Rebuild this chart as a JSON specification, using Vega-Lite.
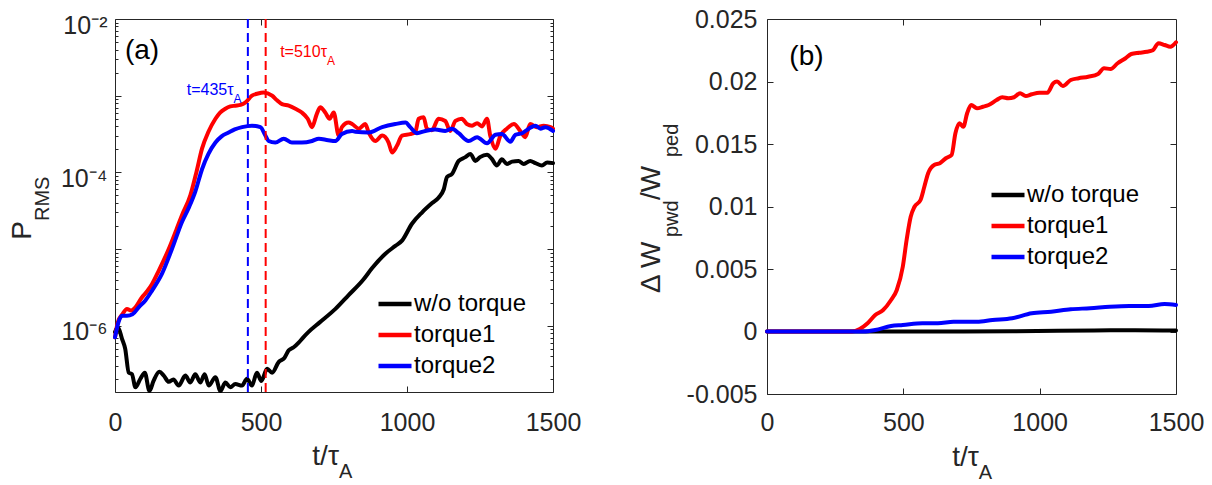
{
  "$schema": "https://vega.github.io/schema/vega-lite/v6.json",
  "background": "white",
  "padding": {"left": 8, "top": 6, "right": 5, "bottom": 3},
  "spacing": 214,
  "bounds": "flush",
  "config": {
    "font": "Liberation Sans",
    "view": {"stroke": "#262626", "strokeWidth": 1},
    "axis": {"domain": false, "grid": false, "labelFont": "Liberation Sans", "labelFontSize": 25, "labelColor": "#262626", "tickColor": "#262626", "tickWidth": 1, "tickSize": -6},
    "text": {"font": "Liberation Sans"}
  },
  "datasets": {
    "p": [
      {"t":0,"v":8.32e-7,"s":"w/o torque"},{"t":10,"v":9.55e-7,"s":"w/o torque"},{"t":24,"v":6.76e-7,"s":"w/o torque"},{"t":35,"v":5.01e-7,"s":"w/o torque"},{"t":47,"v":2.45e-7,"s":"w/o torque"},{"t":58,"v":2.34e-7,"s":"w/o torque"},{"t":70,"v":1.58e-7,"s":"w/o torque"},{"t":87,"v":2.04e-7,"s":"w/o torque"},{"t":102,"v":2.45e-7,"s":"w/o torque"},{"t":118,"v":1.41e-7,"s":"w/o torque"},{"t":132,"v":1.91e-7,"s":"w/o torque"},{"t":152,"v":2.51e-7,"s":"w/o torque"},{"t":167,"v":2.24e-7,"s":"w/o torque"},{"t":184,"v":1.86e-7,"s":"w/o torque"},{"t":200,"v":2.0e-7,"s":"w/o torque"},{"t":218,"v":1.66e-7,"s":"w/o torque"},{"t":241,"v":2.24e-7,"s":"w/o torque"},{"t":258,"v":1.82e-7,"s":"w/o torque"},{"t":275,"v":2.34e-7,"s":"w/o torque"},{"t":292,"v":1.82e-7,"s":"w/o torque"},{"t":307,"v":2.34e-7,"s":"w/o torque"},{"t":321,"v":1.66e-7,"s":"w/o torque"},{"t":344,"v":2.14e-7,"s":"w/o torque"},{"t":361,"v":1.41e-7,"s":"w/o torque"},{"t":378,"v":1.82e-7,"s":"w/o torque"},{"t":395,"v":1.58e-7,"s":"w/o torque"},{"t":412,"v":1.74e-7,"s":"w/o torque"},{"t":435,"v":1.66e-7,"s":"w/o torque"},{"t":452,"v":2.04e-7,"s":"w/o torque"},{"t":469,"v":1.66e-7,"s":"w/o torque"},{"t":486,"v":2.45e-7,"s":"w/o torque"},{"t":501,"v":1.91e-7,"s":"w/o torque"},{"t":521,"v":2.75e-7,"s":"w/o torque"},{"t":538,"v":2.45e-7,"s":"w/o torque"},{"t":561,"v":3.39e-7,"s":"w/o torque"},{"t":580,"v":3.8e-7,"s":"w/o torque"},{"t":595,"v":4.79e-7,"s":"w/o torque"},{"t":612,"v":5.25e-7,"s":"w/o torque"},{"t":629,"v":6.03e-7,"s":"w/o torque"},{"t":645,"v":7.08e-7,"s":"w/o torque"},{"t":663,"v":8.32e-7,"s":"w/o torque"},{"t":700,"v":1.1e-6,"s":"w/o torque"},{"t":755,"v":1.66e-6,"s":"w/o torque"},{"t":800,"v":2.51e-6,"s":"w/o torque"},{"t":850,"v":3.98e-6,"s":"w/o torque"},{"t":880,"v":5.62e-6,"s":"w/o torque"},{"t":926,"v":8.71e-6,"s":"w/o torque"},{"t":960,"v":1.1e-5,"s":"w/o torque"},{"t":983,"v":1.29e-5,"s":"w/o torque"},{"t":1017,"v":2.14e-5,"s":"w/o torque"},{"t":1052,"v":3.02e-5,"s":"w/o torque"},{"t":1086,"v":3.98e-5,"s":"w/o torque"},{"t":1108,"v":4.68e-5,"s":"w/o torque"},{"t":1126,"v":6.03e-5,"s":"w/o torque"},{"t":1137,"v":8.71e-5,"s":"w/o torque"},{"t":1154,"v":9.55e-5,"s":"w/o torque"},{"t":1177,"v":1.41e-4,"s":"w/o torque"},{"t":1200,"v":1.58e-4,"s":"w/o torque"},{"t":1217,"v":1.74e-4,"s":"w/o torque"},{"t":1234,"v":1.41e-4,"s":"w/o torque"},{"t":1250,"v":1.58e-4,"s":"w/o torque"},{"t":1274,"v":1.7e-4,"s":"w/o torque"},{"t":1290,"v":1.51e-4,"s":"w/o torque"},{"t":1308,"v":1.23e-4,"s":"w/o torque"},{"t":1325,"v":1.48e-4,"s":"w/o torque"},{"t":1342,"v":1.29e-4,"s":"w/o torque"},{"t":1360,"v":1.38e-4,"s":"w/o torque"},{"t":1382,"v":1.41e-4,"s":"w/o torque"},{"t":1400,"v":1.29e-4,"s":"w/o torque"},{"t":1422,"v":1.41e-4,"s":"w/o torque"},{"t":1440,"v":1.32e-4,"s":"w/o torque"},{"t":1462,"v":1.23e-4,"s":"w/o torque"},{"t":1480,"v":1.35e-4,"s":"w/o torque"},{"t":1500,"v":1.32e-4,"s":"w/o torque"},
      {"t":0,"v":7.08e-7,"s":"torque1"},{"t":10,"v":1.12e-6,"s":"torque1"},{"t":25,"v":1.41e-6,"s":"torque1"},{"t":41,"v":1.66e-6,"s":"torque1"},{"t":55,"v":1.58e-6,"s":"torque1"},{"t":70,"v":1.74e-6,"s":"torque1"},{"t":92,"v":2.34e-6,"s":"torque1"},{"t":110,"v":2.82e-6,"s":"torque1"},{"t":127,"v":3.51e-6,"s":"torque1"},{"t":150,"v":5.25e-6,"s":"torque1"},{"t":184,"v":1.0e-5,"s":"torque1"},{"t":210,"v":1.78e-5,"s":"torque1"},{"t":229,"v":2.75e-5,"s":"torque1"},{"t":258,"v":5.01e-5,"s":"torque1"},{"t":280,"v":1.05e-4,"s":"torque1"},{"t":298,"v":2.04e-4,"s":"torque1"},{"t":320,"v":3.39e-4,"s":"torque1"},{"t":344,"v":5.01e-4,"s":"torque1"},{"t":360,"v":6.03e-4,"s":"torque1"},{"t":378,"v":6.76e-4,"s":"torque1"},{"t":395,"v":7.24e-4,"s":"torque1"},{"t":412,"v":7.41e-4,"s":"torque1"},{"t":430,"v":7.59e-4,"s":"torque1"},{"t":446,"v":8.13e-4,"s":"torque1"},{"t":469,"v":1.0e-3,"s":"torque1"},{"t":490,"v":1.07e-3,"s":"torque1"},{"t":509,"v":1.1e-3,"s":"torque1"},{"t":538,"v":1.0e-3,"s":"torque1"},{"t":555,"v":8.71e-4,"s":"torque1"},{"t":572,"v":7.76e-4,"s":"torque1"},{"t":595,"v":7.41e-4,"s":"torque1"},{"t":618,"v":6.76e-4,"s":"torque1"},{"t":640,"v":6.03e-4,"s":"torque1"},{"t":660,"v":5.01e-4,"s":"torque1"},{"t":675,"v":3.89e-4,"s":"torque1"},{"t":690,"v":5.62e-4,"s":"torque1"},{"t":703,"v":7.08e-4,"s":"torque1"},{"t":720,"v":6.03e-4,"s":"torque1"},{"t":735,"v":5.01e-4,"s":"torque1"},{"t":749,"v":6.03e-4,"s":"torque1"},{"t":766,"v":3.02e-4,"s":"torque1"},{"t":777,"v":3.89e-4,"s":"torque1"},{"t":800,"v":4.47e-4,"s":"torque1"},{"t":812,"v":4.27e-4,"s":"torque1"},{"t":835,"v":3.72e-4,"s":"torque1"},{"t":857,"v":4.27e-4,"s":"torque1"},{"t":869,"v":3.31e-4,"s":"torque1"},{"t":892,"v":2.57e-4,"s":"torque1"},{"t":915,"v":3.02e-4,"s":"torque1"},{"t":937,"v":2.45e-4,"s":"torque1"},{"t":949,"v":1.82e-4,"s":"torque1"},{"t":966,"v":2.24e-4,"s":"torque1"},{"t":983,"v":3.02e-4,"s":"torque1"},{"t":1011,"v":3.16e-4,"s":"torque1"},{"t":1028,"v":3.31e-4,"s":"torque1"},{"t":1040,"v":5.01e-4,"s":"torque1"},{"t":1057,"v":5.25e-4,"s":"torque1"},{"t":1068,"v":3.72e-4,"s":"torque1"},{"t":1085,"v":3.55e-4,"s":"torque1"},{"t":1108,"v":5.01e-4,"s":"torque1"},{"t":1131,"v":4.68e-4,"s":"torque1"},{"t":1148,"v":3.47e-4,"s":"torque1"},{"t":1166,"v":4.68e-4,"s":"torque1"},{"t":1188,"v":5.01e-4,"s":"torque1"},{"t":1205,"v":4.27e-4,"s":"torque1"},{"t":1223,"v":4.07e-4,"s":"torque1"},{"t":1240,"v":4.37e-4,"s":"torque1"},{"t":1257,"v":3.98e-4,"s":"torque1"},{"t":1274,"v":5.01e-4,"s":"torque1"},{"t":1285,"v":3.02e-4,"s":"torque1"},{"t":1303,"v":2.04e-4,"s":"torque1"},{"t":1320,"v":3.02e-4,"s":"torque1"},{"t":1342,"v":3.72e-4,"s":"torque1"},{"t":1366,"v":4.27e-4,"s":"torque1"},{"t":1388,"v":3.47e-4,"s":"torque1"},{"t":1405,"v":2.88e-4,"s":"torque1"},{"t":1422,"v":4.27e-4,"s":"torque1"},{"t":1445,"v":3.89e-4,"s":"torque1"},{"t":1468,"v":4.07e-4,"s":"torque1"},{"t":1491,"v":3.89e-4,"s":"torque1"},{"t":1500,"v":3.72e-4,"s":"torque1"},
      {"t":0,"v":7.08e-7,"s":"torque2"},{"t":12,"v":1.12e-6,"s":"torque2"},{"t":24,"v":1.35e-6,"s":"torque2"},{"t":41,"v":1.35e-6,"s":"torque2"},{"t":60,"v":1.41e-6,"s":"torque2"},{"t":81,"v":1.74e-6,"s":"torque2"},{"t":104,"v":2.14e-6,"s":"torque2"},{"t":127,"v":2.88e-6,"s":"torque2"},{"t":161,"v":4.79e-6,"s":"torque2"},{"t":195,"v":1.0e-5,"s":"torque2"},{"t":229,"v":2.24e-5,"s":"torque2"},{"t":254,"v":3.55e-5,"s":"torque2"},{"t":275,"v":5.62e-5,"s":"torque2"},{"t":298,"v":1.1e-4,"s":"torque2"},{"t":320,"v":1.74e-4,"s":"torque2"},{"t":344,"v":2.45e-4,"s":"torque2"},{"t":365,"v":2.95e-4,"s":"torque2"},{"t":389,"v":3.31e-4,"s":"torque2"},{"t":410,"v":3.63e-4,"s":"torque2"},{"t":435,"v":3.89e-4,"s":"torque2"},{"t":469,"v":4.07e-4,"s":"torque2"},{"t":498,"v":3.89e-4,"s":"torque2"},{"t":515,"v":3.02e-4,"s":"torque2"},{"t":526,"v":2.57e-4,"s":"torque2"},{"t":549,"v":2.45e-4,"s":"torque2"},{"t":578,"v":2.75e-4,"s":"torque2"},{"t":606,"v":2.45e-4,"s":"torque2"},{"t":640,"v":2.45e-4,"s":"torque2"},{"t":675,"v":2.57e-4,"s":"torque2"},{"t":698,"v":2.75e-4,"s":"torque2"},{"t":730,"v":2.63e-4,"s":"torque2"},{"t":755,"v":2.57e-4,"s":"torque2"},{"t":777,"v":3.16e-4,"s":"torque2"},{"t":812,"v":3.47e-4,"s":"torque2"},{"t":823,"v":3.39e-4,"s":"torque2"},{"t":869,"v":3.31e-4,"s":"torque2"},{"t":915,"v":3.89e-4,"s":"torque2"},{"t":960,"v":4.27e-4,"s":"torque2"},{"t":995,"v":4.47e-4,"s":"torque2"},{"t":1011,"v":3.89e-4,"s":"torque2"},{"t":1034,"v":3.24e-4,"s":"torque2"},{"t":1063,"v":3.47e-4,"s":"torque2"},{"t":1097,"v":3.63e-4,"s":"torque2"},{"t":1131,"v":3.47e-4,"s":"torque2"},{"t":1154,"v":3.72e-4,"s":"torque2"},{"t":1177,"v":3.24e-4,"s":"torque2"},{"t":1211,"v":2.57e-4,"s":"torque2"},{"t":1240,"v":2.88e-4,"s":"torque2"},{"t":1274,"v":2.4e-4,"s":"torque2"},{"t":1303,"v":3.09e-4,"s":"torque2"},{"t":1325,"v":3.16e-4,"s":"torque2"},{"t":1354,"v":2.51e-4,"s":"torque2"},{"t":1371,"v":3.09e-4,"s":"torque2"},{"t":1394,"v":3.24e-4,"s":"torque2"},{"t":1417,"v":3.72e-4,"s":"torque2"},{"t":1440,"v":4.07e-4,"s":"torque2"},{"t":1457,"v":3.72e-4,"s":"torque2"},{"t":1474,"v":3.89e-4,"s":"torque2"},{"t":1500,"v":3.47e-4,"s":"torque2"}
    ],
    "w": [
      {"t":0,"v":0,"s":"w/o torque"},{"t":300,"v":0,"s":"w/o torque"},{"t":600,"v":0,"s":"w/o torque"},{"t":900,"v":0.00002,"s":"w/o torque"},{"t":1200,"v":0.00008,"s":"w/o torque"},{"t":1350,"v":0.0001,"s":"w/o torque"},{"t":1500,"v":0.00008,"s":"w/o torque"},
      {"t":0,"v":0,"s":"torque1"},{"t":312,"v":0,"s":"torque1"},{"t":340,"v":0.0002,"s":"torque1"},{"t":369,"v":0.00066,"s":"torque1"},{"t":397,"v":0.00132,"s":"torque1"},{"t":426,"v":0.00172,"s":"torque1"},{"t":455,"v":0.00252,"s":"torque1"},{"t":476,"v":0.00332,"s":"torque1"},{"t":498,"v":0.00518,"s":"torque1"},{"t":512,"v":0.00732,"s":"torque1"},{"t":527,"v":0.00918,"s":"torque1"},{"t":541,"v":0.00998,"s":"torque1"},{"t":563,"v":0.01052,"s":"torque1"},{"t":577,"v":0.01158,"s":"torque1"},{"t":591,"v":0.01266,"s":"torque1"},{"t":613,"v":0.01332,"s":"torque1"},{"t":634,"v":0.01346,"s":"torque1"},{"t":656,"v":0.01386,"s":"torque1"},{"t":677,"v":0.01412,"s":"torque1"},{"t":691,"v":0.01586,"s":"torque1"},{"t":706,"v":0.01666,"s":"torque1"},{"t":720,"v":0.01638,"s":"torque1"},{"t":734,"v":0.01746,"s":"torque1"},{"t":749,"v":0.01812,"s":"torque1"},{"t":770,"v":0.01786,"s":"torque1"},{"t":792,"v":0.01798,"s":"torque1"},{"t":813,"v":0.01812,"s":"torque1"},{"t":842,"v":0.01852,"s":"torque1"},{"t":863,"v":0.01874,"s":"torque1"},{"t":885,"v":0.01866,"s":"torque1"},{"t":906,"v":0.01874,"s":"torque1"},{"t":928,"v":0.01906,"s":"torque1"},{"t":949,"v":0.01884,"s":"torque1"},{"t":971,"v":0.01898,"s":"torque1"},{"t":999,"v":0.0191,"s":"torque1"},{"t":1028,"v":0.0191,"s":"torque1"},{"t":1050,"v":0.01986,"s":"torque1"},{"t":1064,"v":0.02,"s":"torque1"},{"t":1085,"v":0.01964,"s":"torque1"},{"t":1114,"v":0.02012,"s":"torque1"},{"t":1143,"v":0.02026,"s":"torque1"},{"t":1178,"v":0.02038,"s":"torque1"},{"t":1214,"v":0.0206,"s":"torque1"},{"t":1236,"v":0.02106,"s":"torque1"},{"t":1260,"v":0.021,"s":"torque1"},{"t":1286,"v":0.02146,"s":"torque1"},{"t":1315,"v":0.02186,"s":"torque1"},{"t":1336,"v":0.0222,"s":"torque1"},{"t":1365,"v":0.0223,"s":"torque1"},{"t":1393,"v":0.02238,"s":"torque1"},{"t":1415,"v":0.0225,"s":"torque1"},{"t":1436,"v":0.02306,"s":"torque1"},{"t":1458,"v":0.02292,"s":"torque1"},{"t":1479,"v":0.02278,"s":"torque1"},{"t":1500,"v":0.02314,"s":"torque1"},
      {"t":0,"v":0,"s":"torque2"},{"t":355,"v":0,"s":"torque2"},{"t":397,"v":0.00012,"s":"torque2"},{"t":455,"v":0.00044,"s":"torque2"},{"t":498,"v":0.00052,"s":"torque2"},{"t":570,"v":0.00066,"s":"torque2"},{"t":627,"v":0.00066,"s":"torque2"},{"t":684,"v":0.00078,"s":"torque2"},{"t":770,"v":0.00078,"s":"torque2"},{"t":827,"v":0.00092,"s":"torque2"},{"t":899,"v":0.00106,"s":"torque2"},{"t":971,"v":0.00146,"s":"torque2"},{"t":1042,"v":0.00158,"s":"torque2"},{"t":1114,"v":0.00178,"s":"torque2"},{"t":1185,"v":0.00186,"s":"torque2"},{"t":1257,"v":0.00198,"s":"torque2"},{"t":1329,"v":0.00204,"s":"torque2"},{"t":1400,"v":0.00204,"s":"torque2"},{"t":1458,"v":0.0022,"s":"torque2"},{"t":1500,"v":0.00212,"s":"torque2"}
    ]
  },
  "resolve": {"legend": {"color": "independent"}, "scale": {"color": "independent"}},
  "hconcat": [
    {
      "width": 438,
      "height": 373,
      "resolve": {"axis": {"x": "independent", "y": "independent"}},
      "layer": [
        {
          "data": {"name": "p"},
          "mark": {"type": "line", "strokeWidth": 4, "strokeCap": "round", "strokeJoin": "round", "interpolate": "monotone"},
          "encoding": {
            "x": {"field": "t", "type": "quantitative", "scale": {"domain": [0, 1500], "nice": false}, "axis": {"orient": "bottom", "title": null, "values": [0, 500, 1000, 1500], "format": "d", "labelPadding": 24, "labelFlush": false}},
            "y": {"field": "v", "type": "quantitative", "scale": {"type": "log", "domain": [1.37e-7, 0.01], "nice": false}, "axis": {"orient": "left", "title": null, "values": [2e-7,3e-7,4e-7,5e-7,6e-7,7e-7,8e-7,9e-7,1e-6,2e-6,3e-6,4e-6,5e-6,6e-6,7e-6,8e-6,9e-6,1e-5,2e-5,3e-5,4e-5,5e-5,6e-5,7e-5,8e-5,9e-5,1e-4,2e-4,3e-4,4e-4,5e-4,6e-4,7e-4,8e-4,9e-4,1e-3,2e-3,3e-3,4e-3,5e-3,6e-3,7e-3,8e-3,9e-3,1e-2], "labelExpr": "datum.value == 0.01 ? '10⁻²' : datum.value == 0.0001 ? '10⁻⁴' : datum.value == 0.000001 ? '10⁻⁶' : ''", "labelPadding": 14, "labelBaseline": "alphabetic", "labelOffset": 14, "labelOverlap": false, "labelFlush": false, "tickSize": {"condition": {"test": "datum.value == 0.01 || datum.value == 0.001 || datum.value == 0.0001 || datum.value == 0.00001 || datum.value == 0.000001", "value": -6}, "value": -3}}},
            "color": {"field": "s", "type": "nominal", "scale": {"domain": ["w/o torque", "torque1", "torque2"], "range": ["#000000", "#ff0000", "#0000ff"]}, "legend": {"orient": "none", "legendX": 261, "legendY": 266, "title": null, "symbolType": "stroke", "symbolStrokeWidth": 4.5, "symbolSize": 1089, "labelFontSize": 24, "labelFont": "Liberation Sans", "labelColor": "#000000", "labelOffset": 0, "rowPadding": -3, "padding": 0}}
          }
        },
        {
          "data": {"values": [{"t": 455}]},
          "mark": {"type": "rule", "color": "#0000ff", "strokeWidth": 2, "strokeDash": [9, 5]},
          "encoding": {"x": {"field": "t", "type": "quantitative", "axis": null}}
        },
        {
          "data": {"values": [{"t": 516}]},
          "mark": {"type": "rule", "color": "#ff0000", "strokeWidth": 2, "strokeDash": [9, 5]},
          "encoding": {"x": {"field": "t", "type": "quantitative", "axis": null}}
        },
        {
          "data": {"values": [{"t": 34, "v": 0.003, "label": "(a)"}]},
          "mark": {"type": "text", "fontSize": 28, "align": "left", "baseline": "alphabetic", "color": "#000000"},
          "encoding": {
            "x": {"field": "t", "type": "quantitative", "axis": {"orient": "top", "labels": false, "title": null, "values": [500, 1000], "tickSize": -6}},
            "y": {"field": "v", "type": "quantitative", "axis": {"orient": "right", "labels": false, "title": null, "values": [2e-7,3e-7,4e-7,5e-7,6e-7,7e-7,8e-7,9e-7,1e-6,2e-6,3e-6,4e-6,5e-6,6e-6,7e-6,8e-6,9e-6,1e-5,2e-5,3e-5,4e-5,5e-5,6e-5,7e-5,8e-5,9e-5,1e-4,2e-4,3e-4,4e-4,5e-4,6e-4,7e-4,8e-4,9e-4,1e-3,2e-3,3e-3,4e-3,5e-3,6e-3,7e-3,8e-3,9e-3,1e-2], "tickSize": {"condition": {"test": "datum.value == 0.01 || datum.value == 0.001 || datum.value == 0.0001 || datum.value == 0.00001 || datum.value == 0.000001", "value": -6}, "value": -3}}},
            "text": {"field": "label"}
          }
        },
        {
          "data": {"values": [{"t": 406, "v": 0.00102, "label": "t=435τ"}]},
          "mark": {"type": "text", "fontSize": 16, "align": "right", "baseline": "alphabetic", "color": "#0000ff"},
          "encoding": {"x": {"field": "t", "type": "quantitative", "axis": null}, "y": {"field": "v", "type": "quantitative", "axis": null}, "text": {"field": "label"}}
        },
        {
          "data": {"values": [{"t": 406, "v": 0.00102, "label": "A"}]},
          "mark": {"type": "text", "fontSize": 12, "align": "left", "baseline": "alphabetic", "dy": 8, "color": "#0000ff"},
          "encoding": {"x": {"field": "t", "type": "quantitative", "axis": null}, "y": {"field": "v", "type": "quantitative", "axis": null}, "text": {"field": "label"}}
        },
        {
          "data": {"values": [{"t": 726, "v": 0.00316, "label": "t=510τ"}]},
          "mark": {"type": "text", "fontSize": 16, "align": "right", "baseline": "alphabetic", "color": "#ff0000"},
          "encoding": {"x": {"field": "t", "type": "quantitative", "axis": null}, "y": {"field": "v", "type": "quantitative", "axis": null}, "text": {"field": "label"}}
        },
        {
          "data": {"values": [{"t": 726, "v": 0.00316, "label": "A"}]},
          "mark": {"type": "text", "fontSize": 12, "align": "left", "baseline": "alphabetic", "dy": 8, "color": "#ff0000"},
          "encoding": {"x": {"field": "t", "type": "quantitative", "axis": null}, "y": {"field": "v", "type": "quantitative", "axis": null}, "text": {"field": "label"}}
        },
        {
          "data": {"values": [{"t": 767, "v": 1.37e-7, "label": "t/τ"}]},
          "mark": {"type": "text", "fontSize": 28, "align": "right", "baseline": "alphabetic", "dy": 73, "color": "#262626"},
          "encoding": {"x": {"field": "t", "type": "quantitative", "axis": null}, "y": {"field": "v", "type": "quantitative", "axis": null}, "text": {"field": "label"}}
        },
        {
          "data": {"values": [{"t": 767, "v": 1.37e-7, "label": "A"}]},
          "mark": {"type": "text", "fontSize": 20, "align": "left", "baseline": "alphabetic", "dy": 86, "color": "#262626"},
          "encoding": {"x": {"field": "t", "type": "quantitative", "axis": null}, "y": {"field": "v", "type": "quantitative", "axis": null}, "text": {"field": "label"}}
        },
        {
          "data": {"values": [{"t": 0, "v": 2.32e-5, "label": "P"}]},
          "mark": {"type": "text", "fontSize": 28, "align": "right", "baseline": "alphabetic", "angle": 270, "dy": -84, "color": "#262626"},
          "encoding": {"x": {"field": "t", "type": "quantitative", "axis": null}, "y": {"field": "v", "type": "quantitative", "axis": null}, "text": {"field": "label"}}
        },
        {
          "data": {"values": [{"t": 0, "v": 2.32e-5, "label": "RMS"}]},
          "mark": {"type": "text", "fontSize": 20, "align": "left", "baseline": "alphabetic", "angle": 270, "dy": -66, "color": "#262626"},
          "encoding": {"x": {"field": "t", "type": "quantitative", "axis": null}, "y": {"field": "v", "type": "quantitative", "axis": null}, "text": {"field": "label"}}
        }
      ]
    },
    {
      "width": 409,
      "height": 375,
      "resolve": {"axis": {"x": "independent", "y": "independent"}},
      "layer": [
        {
          "data": {"name": "w"},
          "mark": {"type": "line", "strokeWidth": 4, "strokeCap": "round", "strokeJoin": "round", "interpolate": "monotone"},
          "encoding": {
            "x": {"field": "t", "type": "quantitative", "scale": {"domain": [0, 1500], "nice": false}, "axis": {"orient": "bottom", "title": null, "values": [0, 500, 1000, 1500], "format": "d", "labelPadding": 22, "labelFlush": false}},
            "y": {"field": "v", "type": "quantitative", "scale": {"domain": [-0.005, 0.025], "nice": false}, "axis": {"orient": "left", "title": null, "values": [-0.005, 0, 0.005, 0.01, 0.015, 0.02, 0.025], "labelExpr": "'' + datum.value", "labelPadding": 16, "labelBaseline": "middle", "labelFlush": false, "labelOverlap": false}},
            "color": {"field": "s", "type": "nominal", "scale": {"domain": ["w/o torque", "torque1", "torque2"], "range": ["#000000", "#ff0000", "#0000ff"]}, "legend": {"orient": "none", "legendX": 222, "legendY": 157, "title": null, "symbolType": "stroke", "symbolStrokeWidth": 4.5, "symbolSize": 1089, "labelFontSize": 24, "labelFont": "Liberation Sans", "labelColor": "#000000", "labelOffset": 0, "rowPadding": -3, "padding": 0}}
          }
        },
        {
          "data": {"values": [{"t": 82, "v": 0.02132, "label": "(b)"}]},
          "mark": {"type": "text", "fontSize": 28, "align": "left", "baseline": "alphabetic", "color": "#000000"},
          "encoding": {
            "x": {"field": "t", "type": "quantitative", "axis": {"orient": "top", "labels": false, "title": null, "values": [500, 1000], "tickSize": -6}},
            "y": {"field": "v", "type": "quantitative", "axis": {"orient": "right", "labels": false, "title": null, "values": [0, 0.005, 0.01, 0.015, 0.02], "tickSize": -6}},
            "text": {"field": "label"}
          }
        },
        {
          "data": {"values": [{"t": 777, "v": -0.005, "label": "t/τ"}]},
          "mark": {"type": "text", "fontSize": 28, "align": "right", "baseline": "alphabetic", "dy": 72, "color": "#262626"},
          "encoding": {"x": {"field": "t", "type": "quantitative", "axis": null}, "y": {"field": "v", "type": "quantitative", "axis": null}, "text": {"field": "label"}}
        },
        {
          "data": {"values": [{"t": 777, "v": -0.005, "label": "A"}]},
          "mark": {"type": "text", "fontSize": 20, "align": "left", "baseline": "alphabetic", "dy": 85, "color": "#262626"},
          "encoding": {"x": {"field": "t", "type": "quantitative", "axis": null}, "y": {"field": "v", "type": "quantitative", "axis": null}, "text": {"field": "label"}}
        },
        {
          "data": {"values": [{"t": 0, "v": 0.00308, "label": "Δ W"}, {"t": 0, "v": 0.01052, "label": "/W"}]},
          "mark": {"type": "text", "fontSize": 28, "align": "left", "baseline": "alphabetic", "angle": 270, "dy": -107, "color": "#262626"},
          "encoding": {"x": {"field": "t", "type": "quantitative", "axis": null}, "y": {"field": "v", "type": "quantitative", "axis": null}, "text": {"field": "label"}}
        },
        {
          "data": {"values": [{"t": 0, "v": 0.00756, "label": "pwd"}, {"t": 0, "v": 0.01396, "label": "ped"}]},
          "mark": {"type": "text", "fontSize": 20, "align": "left", "baseline": "alphabetic", "angle": 270, "dy": -89, "color": "#262626"},
          "encoding": {"x": {"field": "t", "type": "quantitative", "axis": null}, "y": {"field": "v", "type": "quantitative", "axis": null}, "text": {"field": "label"}}
        }
      ]
    }
  ]
}
